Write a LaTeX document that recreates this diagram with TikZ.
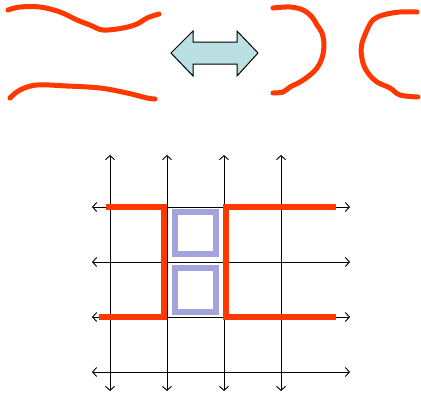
\documentclass[tikz,border=0pt]{standalone}
\usetikzlibrary{arrows.meta}
\definecolor{redline}{RGB}{255,56,0}
\definecolor{bluesq}{RGB}{164,164,220}
\definecolor{arrowfill}{RGB}{186,224,228}
\begin{document}
\begin{tikzpicture}[x=1pt,y=-1pt,
  gridline/.style={line width=0.9pt,black,{Straight Barb[length=4pt,width=9pt]}-{Straight Barb[length=4pt,width=9pt]}},
  redstroke/.style={redline,line width=5pt,line cap=round,line join=round},
  redpath/.style={redline,line width=6pt,line join=miter},
  bluebox/.style={bluesq,line width=6pt}]
\useasboundingbox (0,0) rectangle (421,394);
% top sketches
\draw[redstroke] plot[smooth,tension=0.6] coordinates {(8,10) (20,7) (40,7) (60,12) (77,20) (90,25) (103,30) (123,28) (137,24) (147,18) (159,14)};
\draw[redstroke] plot[smooth,tension=0.6] coordinates {(10,98) (20,90) (37,85) (67,86) (100,88) (127,93) (147,98) (155,99)};
\draw[redstroke] plot[smooth,tension=0.6] coordinates {(273,8) (290,7) (303,10) (312,17) (317,25) (322,33) (324,45) (322,58) (317,68) (310,75) (300,82) (290,87) (283,92) (273,93)};
\draw[redstroke] plot[smooth,tension=0.6] coordinates {(417,12) (400,12) (383,15) (373,20) (367,30) (362,43) (361,50) (363,63) (368,73) (377,82) (390,88) (400,95) (418,97)};
% double arrow
\draw[black,line width=1pt,fill=arrowfill,line join=miter]
  (171,53) -- (193,31) -- (193,42) -- (237,42) -- (237,31) -- (258,53)
  -- (237,76) -- (237,64) -- (193,64) -- (193,76) -- cycle;
% grid coordinates
\foreach \i/\x in {1/110,2/167,3/224,4/281}{
  \coordinate (vt\i) at (\x,155);
  \coordinate (vb\i) at (\x,391);
}
\foreach \j/\y in {1/207,2/262,3/317,4/372}{
  \coordinate (hl\j) at (92,\y);
  \coordinate (hr\j) at (350,\y);
}
% blue squares
\draw[bluebox] (175,212) rectangle (216,254);
\draw[bluebox] (175,268) rectangle (216,312);
% grid
\foreach \i in {1,2,3,4}{\draw[gridline] (vt\i) -- (vb\i);}
\foreach \j in {1,2,3,4}{\draw[gridline] (hl\j) -- (hr\j);}
% red paths
\coordinate (a1) at (106,207);
\coordinate (a2) at (164,207);
\coordinate (a3) at (164,317);
\coordinate (a4) at (99,317);
\draw[redpath] (a1) -- (a2) -- (a3) -- (a4);
\coordinate (b1) at (336,207);
\coordinate (b2) at (226,207);
\coordinate (b3) at (226,317);
\coordinate (b4) at (336,317);
\draw[redpath] (b1) -- (b2) -- (b3) -- (b4);
\end{tikzpicture}
\end{document}
